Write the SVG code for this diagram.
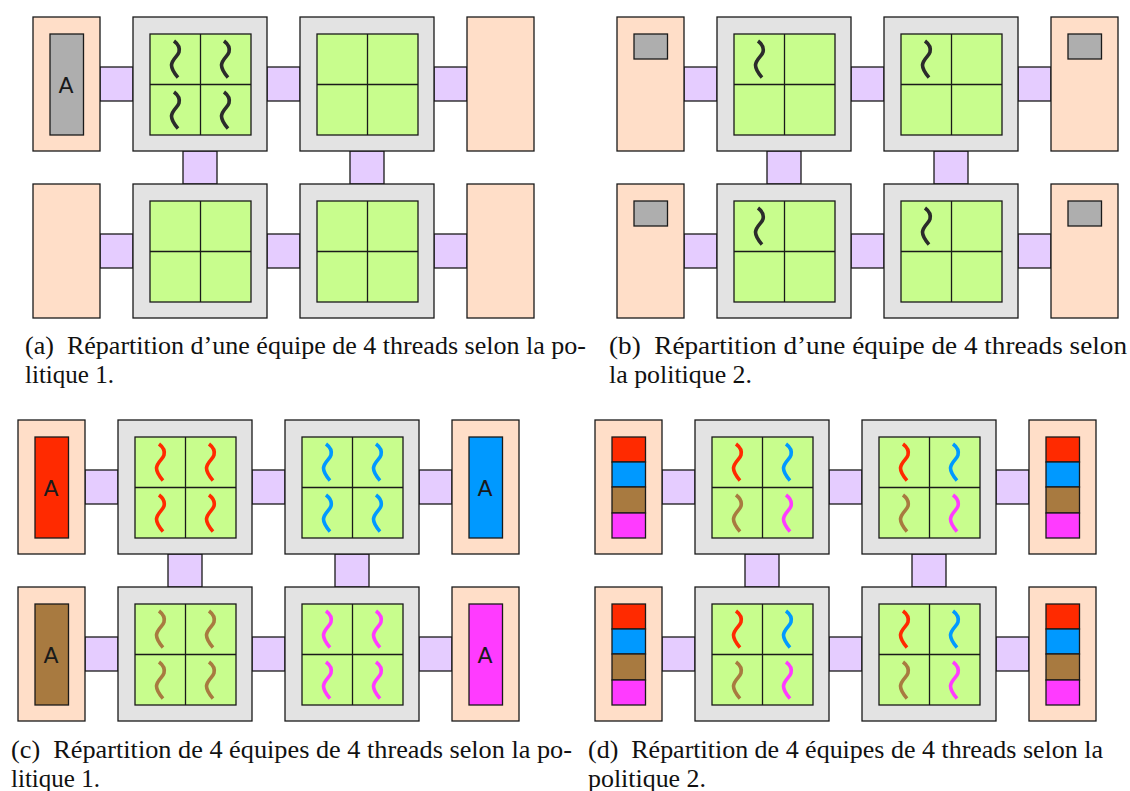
<svg xmlns="http://www.w3.org/2000/svg" width="1130" height="791" viewBox="0 0 1130 791">
<style>
.e{stroke:#1a1a1a;stroke-width:1.3}
.host{fill:#ffdec8}.cpu{fill:#e3e3e3}.core{fill:#c8fd8d}.link{fill:#e5ccff}
.mg{fill:#aeaeae}.r{fill:#ff2a00}.b{fill:#0099ff}.n{fill:#a87a40}.m{fill:#ff3bff}
.tk{stroke:#2b2b2b}.tr{stroke:#ff2a00}.tb{stroke:#0099ff}.tn{stroke:#a87a40}.tm{stroke:#ff3bff}
.lbl{font-family:"DejaVu Sans",sans-serif;font-size:22px;fill:#1a1a1a;text-anchor:middle}
.cap{font-family:"Liberation Serif",serif;font-size:24.5px;fill:#111;white-space:pre}
</style>
<defs>
<path id="t" d="M0 0C4 3 6 7 5 11C4 15-2 18-2.500 24C-2.500 29 1 33 4 36.500" fill="none" stroke-width="3.6"/>
<rect id="host" class="host e" width="67" height="134"/>
<g id="cpu">
<rect class="cpu e" width="134" height="134"/>
<rect class="core e" x="17" y="17" width="101" height="101"/>
<path class="e" fill="none" d="M67.500 17V118M17 67.500H118"/>
</g>
<g id="links">
<rect class="link e" x="100" y="67" width="33" height="34"/>
<rect class="link e" x="267" y="67" width="33" height="34"/>
<rect class="link e" x="434" y="67" width="33" height="34"/>
<rect class="link e" x="100" y="234" width="33" height="34"/>
<rect class="link e" x="267" y="234" width="33" height="34"/>
<rect class="link e" x="434" y="234" width="33" height="34"/>
<rect class="link e" x="183" y="151" width="34" height="33"/>
<rect class="link e" x="350" y="151" width="34" height="33"/>
</g>
<g id="stack">
<rect class="r e" x="17" y="17" width="33.500" height="25"/>
<rect class="b e" x="17" y="42" width="33.500" height="25"/>
<rect class="n e" x="17" y="67" width="33.500" height="26"/>
<rect class="m e" x="17" y="93" width="33.500" height="25"/>
</g>
<g id="one"><use href="#t" x="41" y="24"/><use href="#t" x="91" y="24"/><use href="#t" x="41" y="75"/><use href="#t" x="91" y="75"/></g>
<g id="mix">
<use href="#t" class="tr" x="41" y="24"/><use href="#t" class="tb" x="91" y="24"/><use href="#t" class="tn" x="41" y="75"/><use href="#t" class="tm" x="91" y="75"/>
</g>
</defs>

<g id="fig-a">
<g id="a-connectors"><use href="#links"/></g>
<g id="a-mem1" transform="translate(33,17)"><use href="#host"/><rect class="mg e" x="17" y="17" width="33.500" height="101"/><text class="lbl" x="33" y="76">A</text></g>
<g id="a-cpu1" transform="translate(133,17)"><use href="#cpu"/><use href="#one" class="tk"/></g>
<g id="a-cpu2" transform="translate(300,17)"><use href="#cpu"/></g>
<g id="a-mem2" transform="translate(467,17)"><use href="#host"/></g>
<g id="a-mem3" transform="translate(33,184)"><use href="#host"/></g>
<g id="a-cpu3" transform="translate(133,184)"><use href="#cpu"/></g>
<g id="a-cpu4" transform="translate(300,184)"><use href="#cpu"/></g>
<g id="a-mem4" transform="translate(467,184)"><use href="#host"/></g>
</g>

<g id="fig-b" transform="translate(584,0)">
<g id="b-connectors"><use href="#links"/></g>
<g id="b-mem1" transform="translate(33,17)"><use href="#host"/><rect class="mg e" x="17" y="17" width="33.500" height="25"/></g>
<g id="b-cpu1" transform="translate(133,17)"><use href="#cpu"/><use href="#t" class="tk" x="41" y="24"/></g>
<g id="b-cpu2" transform="translate(300,17)"><use href="#cpu"/><use href="#t" class="tk" x="41" y="24"/></g>
<g id="b-mem2" transform="translate(467,17)"><use href="#host"/><rect class="mg e" x="17" y="17" width="33.500" height="25"/></g>
<g id="b-mem3" transform="translate(33,184)"><use href="#host"/><rect class="mg e" x="17" y="17" width="33.500" height="25"/></g>
<g id="b-cpu3" transform="translate(133,184)"><use href="#cpu"/><use href="#t" class="tk" x="41" y="24"/></g>
<g id="b-cpu4" transform="translate(300,184)"><use href="#cpu"/><use href="#t" class="tk" x="41" y="24"/></g>
<g id="b-mem4" transform="translate(467,184)"><use href="#host"/><rect class="mg e" x="17" y="17" width="33.500" height="25"/></g>
</g>

<g id="fig-c" transform="translate(-15,403)">
<g id="c-connectors"><use href="#links"/></g>
<g id="c-mem1" transform="translate(33,17)"><use href="#host"/><rect class="r e" x="17" y="17" width="33.500" height="101"/><text class="lbl" x="33" y="76">A</text></g>
<g id="c-cpu1" transform="translate(133,17)"><use href="#cpu"/><use href="#one" class="tr"/></g>
<g id="c-cpu2" transform="translate(300,17)"><use href="#cpu"/><use href="#one" class="tb"/></g>
<g id="c-mem2" transform="translate(467,17)"><use href="#host"/><rect class="b e" x="17" y="17" width="33.500" height="101"/><text class="lbl" x="33" y="76">A</text></g>
<g id="c-mem3" transform="translate(33,184)"><use href="#host"/><rect class="n e" x="17" y="17" width="33.500" height="101"/><text class="lbl" x="33" y="76">A</text></g>
<g id="c-cpu3" transform="translate(133,184)"><use href="#cpu"/><use href="#one" class="tn"/></g>
<g id="c-cpu4" transform="translate(300,184)"><use href="#cpu"/><use href="#one" class="tm"/></g>
<g id="c-mem4" transform="translate(467,184)"><use href="#host"/><rect class="m e" x="17" y="17" width="33.500" height="101"/><text class="lbl" x="33" y="76">A</text></g>
</g>

<g id="fig-d" transform="translate(562,403)">
<g id="d-connectors"><use href="#links"/></g>
<g id="d-mem1" transform="translate(33,17)"><use href="#host"/><use href="#stack"/></g>
<g id="d-cpu1" transform="translate(133,17)"><use href="#cpu"/><use href="#mix"/></g>
<g id="d-cpu2" transform="translate(300,17)"><use href="#cpu"/><use href="#mix"/></g>
<g id="d-mem2" transform="translate(467,17)"><use href="#host"/><use href="#stack"/></g>
<g id="d-mem3" transform="translate(33,184)"><use href="#host"/><use href="#stack"/></g>
<g id="d-cpu3" transform="translate(133,184)"><use href="#cpu"/><use href="#mix"/></g>
<g id="d-cpu4" transform="translate(300,184)"><use href="#cpu"/><use href="#mix"/></g>
<g id="d-mem4" transform="translate(467,184)"><use href="#host"/><use href="#stack"/></g>
</g>

<g id="captions">
<text class="cap" x="25" y="354" textLength="561" lengthAdjust="spacingAndGlyphs">(a)  Répartition d’une équipe de 4 threads selon la po-</text>
<text class="cap" x="25" y="383" textLength="89" lengthAdjust="spacingAndGlyphs">litique 1.</text>
<text class="cap" x="609" y="354" textLength="518" lengthAdjust="spacingAndGlyphs">(b)  Répartition d’une équipe de 4 threads selon</text>
<text class="cap" x="609" y="383" textLength="143" lengthAdjust="spacingAndGlyphs">la politique 2.</text>
<text class="cap" x="11" y="758" textLength="561" lengthAdjust="spacingAndGlyphs">(c)  Répartition de 4 équipes de 4 threads selon la po-</text>
<text class="cap" x="11" y="787" textLength="89" lengthAdjust="spacingAndGlyphs">litique 1.</text>
<text class="cap" x="588" y="758" textLength="515" lengthAdjust="spacingAndGlyphs">(d)  Répartition de 4 équipes de 4 threads selon la</text>
<text class="cap" x="588" y="787" textLength="118" lengthAdjust="spacingAndGlyphs">politique 2.</text>
</g>
</svg>
